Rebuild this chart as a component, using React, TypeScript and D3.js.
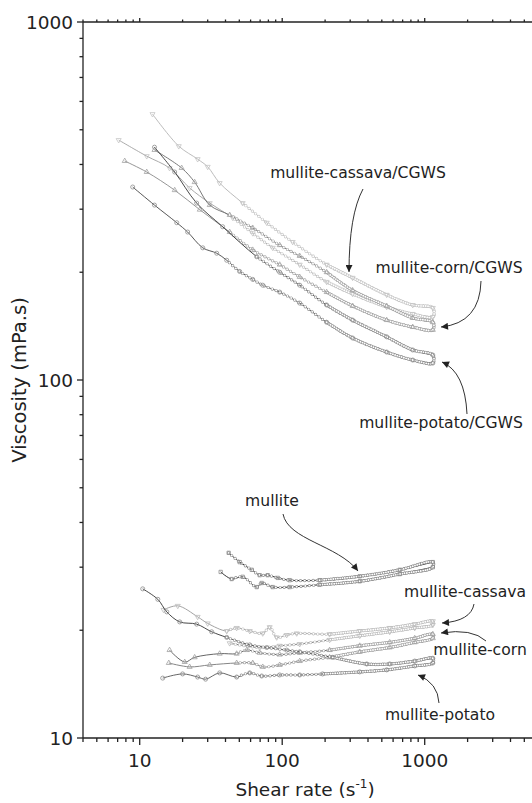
import React from 'react'
import * as d3 from 'd3'

type Pt = [number, number] // [shear rate (1/s), viscosity (mPa.s)]

// mullite + CGWS suspensions (up = increasing shear, down = decreasing shear)
const cassavaCgwsUp: Pt[] = [[12.3, 553], [18.8, 450], [25.5, 414], [30, 394], [36.4, 355], [52.8, 312], [77.9, 275], [118.5, 243], [205, 210], [312, 193], [541, 173], [824, 162], [1140, 159]]
const cassavaCgwsDown: Pt[] = [[1140, 150], [824, 153], [541, 160], [312, 174], [205, 188], [132.7, 210], [85.8, 234], [62.1, 257], [44.9, 284], [31, 312], [22.4, 344], [16.2, 391], [11.2, 422], [7.12, 468]]
const cornCgwsUp: Pt[] = [[12.7, 439], [19.7, 391], [24.3, 357], [31, 308], [42.8, 289], [62.1, 266], [96, 238], [132.7, 222], [205, 200], [312, 178], [541, 161], [824, 149], [1140, 145]]
const cornCgwsDown: Pt[] = [[1140, 138], [824, 140.6], [541, 147], [312, 161], [205, 176], [132.7, 194], [96, 210], [62.1, 231], [42.8, 259], [26.4, 299], [17.6, 339], [11.2, 381], [7.85, 409]]
const potatoCgwsUp: Pt[] = [[12.7, 447], [17.6, 381], [25.1, 312], [38.2, 268], [66.2, 221], [96, 200], [132.7, 184], [205, 162], [312, 147], [541, 132], [824, 121.3], [1140, 117.4]]
const potatoCgwsDown: Pt[] = [[1140, 111.5], [824, 113.7], [541, 119.7], [312, 131], [205, 145], [132.7, 164], [96, 176], [73, 184], [62.1, 191], [50.3, 201], [40.8, 216], [34.7, 226], [27.7, 234], [21.7, 259], [18.2, 275], [12.7, 308], [8.93, 346]]

// suspensions without CGWS
const mulliteUp: Pt[] = [[42.1, 32.9], [50.3, 31], [61.1, 29.5], [69.5, 28.5], [79.1, 28.5], [93, 28], [112.9, 27.6], [183, 27.6], [350, 28.3], [668, 29.5], [1140, 31]]
const mulliteDown: Pt[] = [[1140, 30], [668, 28.7], [350, 27.4], [183, 26.8], [112.9, 26.4], [85.8, 26.4], [71.8, 27.1], [66.2, 26.4], [52.8, 28.2], [44.2, 27.8], [37, 29.1]]
const cassavaUp: Pt[] = [[14.7, 22.8], [18.5, 23.4], [25.5, 21.8], [30, 20.9], [40.8, 19.9], [47.9, 20.3], [59.2, 19.9], [73, 19.6], [81.7, 20.4], [91.5, 19.1], [107.5, 19.4], [126.4, 19.6], [215, 19.5], [350, 19.9], [568, 20.3], [851, 20.8], [1140, 21.2]]
const cassavaDown: Pt[] = [[1140, 20.7], [851, 20.3], [568, 19.8], [350, 19.3], [215, 18.8], [132.7, 18.3], [96, 18.1], [69.5, 17.9], [42.8, 18.4]]
const cornUp: Pt[] = [[16.2, 17.6], [20.7, 16.3], [24.3, 16.8], [36.4, 17.2], [47.9, 17.2], [56.4, 17.6], [69.5, 17.3], [96, 17.1], [132.7, 17.3], [215, 17.6], [350, 18.1], [568, 18.5], [851, 19], [1140, 19.5]]
const cornDown: Pt[] = [[1140, 19], [851, 18.5], [568, 17.9], [350, 17.4], [215, 16.8], [132.7, 16.4], [96, 16], [73, 15.8], [62.1, 16.2], [47.9, 16.2], [31, 16], [22.4, 15.8], [16, 16.2]]
const potatoUp: Pt[] = [[10.5, 26.1], [13.4, 24.4], [15.5, 22.5], [19.1, 21.1], [25.1, 20.8], [32, 19.8], [40.8, 19.1], [59.2, 18.2], [77.9, 17.9], [107.5, 17.6], [132.7, 17.4], [226, 16.8], [392, 16.1], [568, 16.1], [851, 16.4], [1140, 16.7]]
const potatoDown: Pt[] = [[1140, 16.2], [851, 15.9], [541, 15.5], [350, 15.3], [192, 15.1], [132.7, 15], [96, 15], [71.8, 14.9], [59.2, 15.2], [47.9, 14.8], [36.4, 15.2], [29, 14.6], [25.5, 14.8], [20, 15.1], [14.5, 14.7]]

const yTickLabels = ['10', '100', '1000']
const xTickLabels = ['10', '100', '1000']

const loops = [
  { up: cassavaCgwsUp, down: cassavaCgwsDown, upColor: '#b4b4b4', downColor: '#a0a0a0', mark: '#c4c4c4', sym: 'triDown' },
  { up: cornCgwsUp, down: cornCgwsDown, upColor: '#6a6a6a', downColor: '#8a8a8a', mark: '#a2a2a2', sym: 'triUp' },
  { up: potatoCgwsUp, down: potatoCgwsDown, upColor: '#333', downColor: '#444', mark: '#8e8e8e', sym: 'circle' },
  { up: mulliteUp, down: mulliteDown, upColor: '#111', downColor: '#1a1a1a', mark: '#8a8a8a', sym: 'square' },
  { up: cassavaUp, down: cassavaDown, upColor: '#999', downColor: '#666', mark: '#bcbcbc', sym: 'triDown' },
  { up: cornUp, down: cornDown, upColor: '#555', downColor: '#777', mark: '#a0a0a0', sym: 'triUp' },
  { up: potatoUp, down: potatoDown, upColor: '#333', downColor: '#555', mark: '#8c8c8c', sym: 'circle' },
]

const labels = [
  { text: 'mullite-cassava/CGWS', x: 358, y: 178 },
  { text: 'mullite-corn/CGWS', x: 449, y: 273 },
  { text: 'mullite-potato/CGWS', x: 441, y: 428 },
  { text: 'mullite', x: 272, y: 506 },
  { text: 'mullite-cassava', x: 465, y: 597 },
  { text: 'mullite-corn', x: 480, y: 655 },
  { text: 'mullite-potato', x: 440, y: 720 },
]

const arrows = [
  'M363,189 Q349,215 349,272',
  'M481,281 Q480,323 441,327',
  'M467,414 Q465,372 442,362',
  'M283,514 C288,540 338,545 358,571',
  'M474,604 Q471,621 442,623',
  'M486,641 Q472,628 441,633',
  'M439,703 Q438,683 418,675',
]

const W = 532
const H = 803
const font = 'DejaVu Sans'
const ink = '#222'

const x = d3.scaleLog().domain([4, 10000]).range([83, 83 + 142.5 * Math.log10(2500)])
const y = d3.scaleLog().domain([10, 1000]).range([738, 22])

const line = d3.line<Pt>()
  .x(d => x(d[0]))
  .y(d => y(d[1]))
  .curve(d3.curveCatmullRom.alpha(0.5))

const symbols: Record<string, d3.SymbolType> = {
  circle: d3.symbolCircle,
  square: d3.symbolSquare,
  triUp: d3.symbolTriangle,
  triDown: d3.symbolTriangle,
}

const isMajor = (t: number) => Math.abs(Math.log10(t) - Math.round(Math.log10(t))) < 1e-6

const App = () => {
  const xTicks = x.ticks().filter(t => x(t) <= W + 1)
  const yTicks = y.ticks()

  return (
    <svg width={W} height={H} style={{ position: 'absolute', left: 0, top: 0, background: '#fff' }}>
      <defs>
        <marker id="head" viewBox="0 0 10 10" refX="10" refY="5" markerWidth="9" markerHeight="7"
          markerUnits="userSpaceOnUse" orient="auto">
          <path d="M0,0 L10,5 L0,10 z" fill={ink} />
        </marker>
      </defs>

      {loops.map((l, i) => {
        const loop = l.up.concat(l.down)
        const mid = loop.filter(d => d[0] >= 40)
        const dense = loop.filter(d => d[0] >= 150)
        const sym = d3.symbol().type(symbols[l.sym]).size(l.sym === 'circle' ? 13 : 11)()
        return (
          <g key={i}>
            <path d={line(l.up) || ''} fill="none" stroke={l.upColor} strokeWidth={0.9} />
            <path d={line(l.down) || ''} fill="none" stroke={l.downColor} strokeWidth={0.9} />
            <path d={line(mid) || ''} fill="none" stroke={l.mark} strokeWidth={3.2}
              strokeLinecap="round" strokeDasharray="0 4.2" />
            <path d={line(mid) || ''} fill="none" stroke="#fff" strokeWidth={1.9}
              strokeLinecap="round" strokeDasharray="0 4.2" />
            <path d={line(dense) || ''} fill="none" stroke={l.mark} strokeWidth={3.4}
              strokeLinecap="round" strokeDasharray="0 2.3" />
            <path d={line(dense) || ''} fill="none" stroke="#fff" strokeWidth={1.9}
              strokeLinecap="round" strokeDasharray="0 2.3" />
            {loop.map((d, j) => (
              <path key={j} d={sym || ''} fill="none" stroke={l.mark} strokeWidth={0.8}
                transform={`translate(${x(d[0])},${y(d[1])})${l.sym === 'triDown' ? ' rotate(180)' : ''}`} />
            ))}
          </g>
        )
      })}

      {/* axes */}
      <g stroke={ink} strokeWidth={1.3} fill="none">
        <line x1={83} x2={83} y1={22} y2={738} />
        <line x1={83} x2={W} y1={738} y2={738} />
        <line x1={83} x2={W} y1={22} y2={22} />
        {xTicks.map((t, i) => (
          <g key={i}>
            <line x1={x(t)} x2={x(t)} y1={738} y2={738 + (isMajor(t) ? 7 : 4)} />
            <line x1={x(t)} x2={x(t)} y1={22} y2={22 - (isMajor(t) ? 4 : 2.5)} />
          </g>
        ))}
        {yTicks.map((t, i) => (
          <line key={i} x1={83 - (isMajor(t) ? 6 : 3.5)} x2={83} y1={y(t)} y2={y(t)} />
        ))}
      </g>

      <g fontFamily={font} fill={ink} fontSize={18.5}>
        {yTickLabels.map(s => (
          <text key={s} x={73} y={y(+s)} dy="0.36em" textAnchor="end">{s}</text>
        ))}
        {xTickLabels.map(s => (
          <text key={s} x={x(+s)} y={767} textAnchor="middle">{s}</text>
        ))}
        <text x={305} y={796} textAnchor="middle">
          Shear rate (s<tspan dy={-8} fontSize={12}>-1</tspan><tspan dy={8}>)</tspan>
        </text>
        <text transform="translate(26,380) rotate(-90)" textAnchor="middle" fontSize={19.5}>
          Viscosity (mPa.s)
        </text>
      </g>

      <g fontFamily={font} fill={ink} fontSize={15.6}>
        {labels.map(l => (
          <text key={l.text} x={l.x} y={l.y} textAnchor="middle">{l.text}</text>
        ))}
      </g>

      <g fill="none" stroke="#333" strokeWidth={1}>
        {arrows.map((d, i) => <path key={i} d={d} markerEnd="url(#head)" />)}
      </g>
    </svg>
  )
}

export default App
